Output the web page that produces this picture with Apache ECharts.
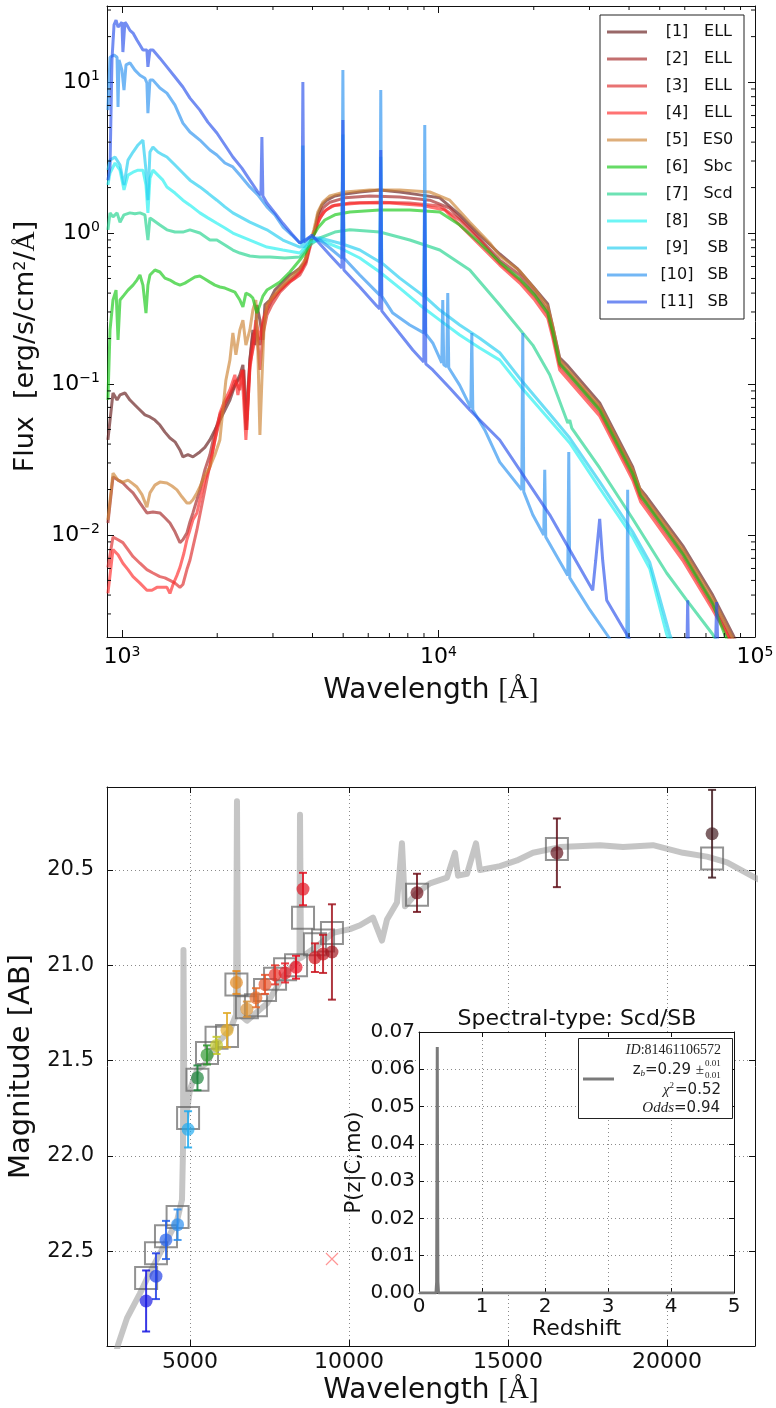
<!DOCTYPE html>
<html><head><meta charset="utf-8">
<script src="https://cdn.jsdelivr.net/npm/echarts/dist/echarts.min.js"></script>
<style>html,body{margin:0;padding:0;background:#fff}#c{width:776px;height:1408px}</style>
</head><body><div id="c"></div>
<script>
// ---------- TOP PANEL: SED templates [wavelength (A), flux] ----------
const templateNames = ['[1] ELL','[2] ELL','[3] ELL','[4] ELL','[5] ES0','[6] Sbc','[7] Scd','[8] SB','[9] SB','[10] SB','[11] SB'];
const t1 = [[903,0.0426],[937,0.0872],[965,0.0783],[986,0.0846],[1022,0.0872],[1060,0.0783],[1099,0.0726],[1140,0.0673],[1182,0.0624],[1226,0.0605],[1271,0.0577],[1318,0.0535],[1367,0.048],[1418,0.0439],[1471,0.0414],[1525,0.0366],[1558,0.0329],[1616,0.034],[1676,0.0329],[1763,0.0355],[1828,0.038],[1896,0.0426],[1967,0.0496],[2039,0.0577],[2115,0.0673],[2193,0.0783],[2274,0.098],[2358,0.115],[2411,0.134],[2464,0.0496],[2536,0.144],[2592,0.228],[2630,0.181],[2669,0.334],[2728,0.265],[2788,0.196],[2829,0.334],[2934,0.36],[3042,0.419],[3155,0.452],[3271,0.488],[3393,0.527],[3518,0.552],[3648,0.586],[3783,0.642],[3867,0.772],[3981,0.927],[4069,1.015],[4158,1.32],[4281,1.53],[4439,1.65],[4706,1.76],[5062,1.81],[5643,1.87],[6525,1.93],[7548,1.87],[8729,1.79],[10095,1.71],[11675,1.32],[13504,0.97],[15617,0.726],[17682,0.586],[19856,0.445],[22142,0.339],[22795,0.257],[24155,0.149],[25428,0.134],[32309,0.0748],[41068,0.0282],[43214,0.0204],[45471,0.0179],[59089,0.0085],[73492,0.004],[84990,0.0022],[103400,0.00094]];
const t2 = [[903,0.012],[937,0.0242],[972,0.0231],[1007,0.0221],[1045,0.0204],[1084,0.019],[1140,0.0163],[1199,0.014],[1253,0.0142],[1318,0.014],[1367,0.013],[1418,0.012],[1471,0.0105],[1525,0.0089],[1558,0.0093],[1604,0.0103],[1640,0.0122],[1676,0.014],[1725,0.0171],[1763,0.0199],[1828,0.027],[1896,0.034],[1967,0.048],[2039,0.0624],[2115,0.0726],[2193,0.0846],[2274,0.098],[2358,0.11],[2428,0.124],[2481,0.0577],[2536,0.144],[2592,0.211],[2649,0.228],[2728,0.181],[2788,0.246],[2871,0.309],[2977,0.36],[3155,0.419],[3393,0.488],[3648,0.552],[3811,0.642],[3924,0.833],[4039,1.015],[4158,1.26],[4312,1.46],[4538,1.6],[5062,1.71],[6068,1.76],[7548,1.73],[9387,1.65],[10856,1.46],[12559,1.08],[15617,0.662],[18064,0.527],[20147,0.406],[22142,0.309],[22962,0.228],[24155,0.14],[32309,0.0694],[41068,0.0262],[43518,0.0187],[45471,0.0166],[59089,0.0078],[73492,0.0036],[83150,0.0022],[103400,0.00086]];
const t3 = [[903,0.0061],[937,0.0097],[972,0.0093],[1007,0.0089],[1045,0.008],[1084,0.0072],[1140,0.0065],[1199,0.0059],[1253,0.0056],[1318,0.0053],[1367,0.0052],[1418,0.005],[1471,0.0048],[1525,0.0045],[1558,0.0047],[1604,0.0059],[1640,0.0068],[1676,0.0083],[1725,0.0108],[1763,0.0136],[1828,0.0199],[1896,0.0291],[1967,0.0426],[2039,0.0577],[2115,0.0748],[2193,0.0846],[2274,0.106],[2358,0.0913],[2411,0.124],[2481,0.0496],[2536,0.134],[2592,0.168],[2669,0.228],[2728,0.124],[2788,0.211],[2871,0.286],[2977,0.334],[3155,0.406],[3393,0.473],[3648,0.527],[3811,0.623],[3924,0.796],[4039,0.985],[4158,1.18],[4344,1.38],[4605,1.51],[5248,1.58],[6525,1.6],[8117,1.58],[10095,1.51],[11675,1.22],[13504,0.899],[15617,0.633],[18064,0.488],[20147,0.382],[22142,0.291],[22962,0.215],[24155,0.132],[32309,0.0653],[41068,0.0246],[43518,0.0176],[45471,0.0156],[59089,0.0073],[73492,0.0034],[81950,0.0022],[103400,0.00081]];
const t4 = [[903,0.0041],[937,0.008],[972,0.0074],[1007,0.0065],[1045,0.0059],[1084,0.0053],[1140,0.0048],[1199,0.0043],[1244,0.0043],[1290,0.0045],[1337,0.0045],[1387,0.0045],[1418,0.0041],[1450,0.0047],[1492,0.0054],[1525,0.0061],[1570,0.0076],[1604,0.0093],[1640,0.0108],[1676,0.0126],[1725,0.014],[1763,0.0171],[1828,0.0231],[1896,0.0282],[1967,0.0426],[2039,0.0643],[2115,0.0783],[2193,0.0913],[2274,0.115],[2325,0.0846],[2393,0.124],[2464,0.0426],[2536,0.124],[2592,0.181],[2649,0.265],[2728,0.196],[2788,0.265],[2892,0.334],[3042,0.388],[3271,0.452],[3518,0.503],[3702,0.569],[3839,0.715],[3952,0.899],[4069,1.015],[4219,1.26],[4407,1.42],[4706,1.53],[5643,1.58],[7019,1.58],[8729,1.53],[10468,1.42],[12106,1.05],[14003,0.772],[15617,0.614],[18064,0.466],[20147,0.36],[22142,0.273],[22962,0.202],[24155,0.124],[32309,0.0614],[41068,0.0231],[43518,0.0166],[45471,0.0146],[59089,0.0068],[73492,0.0032],[81355,0.0022],[103400,0.00076]];
const t5 = [[903,0.0126],[937,0.0257],[972,0.0231],[1007,0.0224],[1045,0.0231],[1084,0.0218],[1115,0.0208],[1157,0.0185],[1199,0.0153],[1226,0.019],[1271,0.0214],[1318,0.0224],[1387,0.0221],[1439,0.0211],[1492,0.0199],[1547,0.0179],[1604,0.0163],[1640,0.0163],[1676,0.0171],[1725,0.019],[1763,0.0208],[1828,0.025],[1896,0.0282],[1967,0.034],[2039,0.0426],[2084,0.0673],[2130,0.106],[2193,0.144],[2241,0.218],[2291,0.156],[2358,0.228],[2411,0.265],[2464,0.181],[2536,0.228],[2592,0.309],[2649,0.36],[2688,0.168],[2728,0.046],[2768,0.106],[2809,0.228],[2871,0.334],[2977,0.371],[3155,0.432],[3393,0.503],[3648,0.586],[3811,0.683],[3924,0.859],[4039,1.05],[4158,1.38],[4312,1.6],[4538,1.76],[5062,1.87],[6068,1.93],[7548,1.93],[9387,1.87],[10856,1.65],[12559,1.18],[14522,0.859],[15617,0.704],[18064,0.56],[20147,0.425],[22142,0.324],[22962,0.242],[24155,0.144],[32309,0.0715],[41068,0.027],[43518,0.0196],[45471,0.0171],[59089,0.0081],[73492,0.0038],[83760,0.0022],[103400,0.00091]];
const t6 = [[903,0.0783],[917,0.228],[937,0.36],[958,0.419],[972,0.196],[986,0.36],[1015,0.388],[1045,0.419],[1084,0.452],[1115,0.488],[1140,0.527],[1165,0.452],[1191,0.295],[1208,0.452],[1226,0.527],[1271,0.569],[1318,0.552],[1367,0.503],[1418,0.488],[1471,0.466],[1525,0.452],[1581,0.466],[1640,0.488],[1700,0.511],[1763,0.519],[1828,0.496],[1896,0.473],[1967,0.452],[2039,0.439],[2115,0.432],[2193,0.419],[2274,0.406],[2358,0.36],[2411,0.324],[2464,0.4],[2536,0.388],[2592,0.371],[2669,0.295],[2728,0.334],[2788,0.382],[2871,0.419],[2977,0.439],[3155,0.473],[3393,0.552],[3648,0.662],[3811,0.749],[3924,0.859],[4039,0.97],[4158,1.08],[4375,1.22],[4706,1.32],[5248,1.38],[6525,1.42],[8117,1.42],[10095,1.38],[11675,1.13],[13504,0.859],[15617,0.642],[18064,0.496],[20147,0.388],[22142,0.295],[22962,0.221],[24155,0.136],[32309,0.0673],[41068,0.0254],[43518,0.0182],[45471,0.0161],[59089,0.0075],[73492,0.0035],[80180,0.0022],[103400,0.0007]];
const t7 = [[903,1.05],[917,1.36],[937,1.28],[965,1.36],[986,1.18],[1015,1.32],[1060,1.36],[1099,1.34],[1140,1.36],[1182,1.32],[1208,0.899],[1226,1.26],[1253,1.22],[1318,1.13],[1387,1.05],[1471,1.015],[1558,1.015],[1640,1.05],[1763,1.0],[1896,0.899],[1995,0.899],[2115,0.833],[2241,0.772],[2358,0.737],[2536,0.704],[2728,0.693],[2934,0.693],[3271,0.683],[3648,0.693],[3924,0.833],[4219,0.927],[4706,1.015],[5248,1.05],[6525,1.015],[8117,0.899],[10095,0.772],[12559,0.569],[15617,0.334],[19856,0.181],[22466,0.115],[25614,0.0552],[25990,0.0577],[26370,0.0511],[32309,0.0278],[41068,0.0128],[52595,0.0056],[60838,0.0037],[73492,0.0022],[103400,0.0006]];
const t8 = [[903,2.08],[917,2.5],[951,2.91],[986,2.61],[1015,1.93],[1045,2.42],[1084,2.53],[1124,2.61],[1165,2.61],[1191,2.08],[1208,1.36],[1226,2.31],[1253,2.61],[1299,2.42],[1347,2.24],[1387,2.02],[1471,1.84],[1558,1.65],[1640,1.53],[1763,1.36],[1868,1.26],[1995,1.16],[2115,1.08],[2241,1.0],[2536,0.899],[2871,0.808],[3224,0.772],[3648,0.737],[3924,0.872],[4219,0.899],[4881,0.796],[5643,0.683],[6525,0.552],[7548,0.432],[8729,0.334],[10095,0.265],[11675,0.211],[13504,0.173],[15617,0.144],[18464,0.0926],[22466,0.0577],[25990,0.0407],[32309,0.0204],[41068,0.0097],[46477,0.006],[52595,0.0022],[66864,0.0006]];
const t9 = [[903,2.61],[917,3.04],[951,3.19],[986,2.82],[1015,2.08],[1045,3.04],[1084,3.44],[1124,3.83],[1165,4.13],[1191,2.61],[1208,1.65],[1226,3.44],[1253,3.71],[1299,3.44],[1347,3.29],[1387,3.19],[1471,2.82],[1558,2.5],[1640,2.24],[1763,2.02],[1868,1.84],[1995,1.65],[2115,1.49],[2241,1.36],[2536,1.18],[2871,1.05],[3224,0.899],[3648,0.808],[3702,0.808],[3729,3.8],[3756,0.8],[3924,0.927],[4219,0.927],[4953,0.85],[4989,4.5],[5025,0.84],[5643,0.772],[6525,0.642],[6572,3.2],[6620,0.635],[7548,0.503],[8729,0.4],[8986,0.38],[9051,1.8],[9117,0.375],[10095,0.309],[11675,0.246],[13504,0.201],[15617,0.161],[18464,0.103],[22466,0.0633],[25990,0.0439],[32309,0.0225],[41068,0.0105],[46477,0.0066],[53762,0.0022],[66864,0.00064]];
const t10 = [[903,6.52],[917,14.6],[944,15.1],[965,14.6],[972,6.83],[979,14.0],[1000,12.0],[1015,8.85],[1030,13.0],[1060,13.4],[1099,12.0],[1140,11.1],[1182,10.6],[1199,9.85],[1208,6.23],[1226,10.3],[1253,10.3],[1318,9.13],[1387,8.45],[1471,7.04],[1558,5.35],[1640,4.67],[1763,4.13],[1896,3.55],[1995,3.29],[2115,2.91],[2241,2.74],[2358,2.42],[2536,2.02],[2688,1.79],[2871,1.49],[3042,1.32],[3224,1.1],[3442,0.97],[3648,0.859],[3924,0.94],[4219,0.899],[4538,0.796],[4953,0.683],[4989,12.0],[5025,0.683],[5643,0.527],[6383,0.406],[6525,0.388],[6572,8.85],[6620,0.382],[7173,0.295],[8117,0.246],[8986,0.218],[9051,5.19],[9117,0.215],[9593,0.187],[10242,0.138],[10317,0.36],[10392,0.134],[10621,0.13],[10699,0.4],[10777,0.128],[11675,0.098],[12651,0.0694],[12744,0.218],[12837,0.0673],[14003,0.0496],[15617,0.0304],[18329,0.0199],[18464,0.218],[18598,0.0193],[19856,0.0136],[21508,0.01],[21664,0.027],[21822,0.0097],[25614,0.0054],[25801,0.0355],[25990,0.0052],[30045,0.0032],[34002,0.0022],[39313,0.0014],[39600,0.0199],[39889,0.00137],[49985,0.0006],[66864,0.00018]];
const t11 = [[903,2.24],[917,2.74],[930,14.0],[944,23.9],[958,25.7],[972,23.1],[986,23.1],[1000,24.9],[1007,15.8],[1022,24.9],[1037,23.9],[1060,22.0],[1084,21.1],[1115,19.0],[1140,17.6],[1165,16.3],[1199,16.3],[1208,12.6],[1226,16.3],[1253,16.3],[1318,14.4],[1387,12.6],[1471,10.8],[1558,9.27],[1640,7.83],[1763,6.52],[1868,5.43],[1995,4.6],[2115,3.83],[2241,3.19],[2393,2.69],[2536,2.24],[2688,1.87],[2748,1.79],[2768,4.32],[2788,1.76],[2871,1.58],[3042,1.36],[3224,1.16],[3442,0.985],[3648,0.859],[3702,0.872],[3729,10.0],[3756,0.872],[3981,0.97],[4538,0.715],[4953,0.586],[4989,5.6],[5025,0.569],[5643,0.439],[6383,0.329],[6525,0.314],[6572,3.55],[6620,0.305],[8296,0.168],[8986,0.14],[9051,1.65],[9117,0.136],[9593,0.124],[10856,0.094],[12559,0.0673],[15617,0.0426],[22466,0.0136],[30709,0.0043],[31386,0.0068],[32309,0.0128],[33021,0.0068],[34002,0.0037],[39313,0.0022],[49985,0.00094],[60396,0.00051],[61282,0.0037],[62180,0.00051],[73492,0.00033],[75655,0.0036],[77880,0.00033],[96160,0.00018]];
const templates = [t1,t2,t3,t4,t5,t6,t7,t8,t9,t10,t11];
const topMinorX = [2000,3000,4000,5000,6000,7000,8000,9000,20000,30000,40000,50000,60000,70000,80000,90000];
const topMinorY = [0.003,0.004,0.005,0.006,0.007,0.008,0.009,0.02,0.03,0.04,0.05,0.06,0.07,0.08,0.09,0.2,0.3,0.4,0.5,0.6,0.7,0.8,0.9,2,3,4,5,6,7,8,9,20,30];

// ---------- BOTTOM PANEL: photometry ----------
const sedWl  = [2484,2736,3019,3428,3742,4151,4591,4748,4780,4795,4827,5000,5220,5535,5850,6258,6447,6478,6510,6793,7422,7925,8444,8460,8491,8994,9497,10032,10347,10755,11038,11196,11510,11667,11762,12139,12548,13083,13334,13430,13712,13995,14120,14750,15284,15787,16637,17895,18618,19562,20505,21260,21889,22770,23500];
const sedMag = [23.18,22.99,22.85,22.72,22.61,22.48,22.34,22.23,21.97,20.92,21.86,21.65,21.55,21.51,21.41,21.34,21.26,20.14,21.25,21.29,21.20,21.06,20.96,20.21,20.96,20.90,20.83,20.81,20.79,20.75,20.87,20.76,20.67,20.36,20.69,20.62,20.57,20.54,20.41,20.53,20.52,20.36,20.50,20.48,20.45,20.41,20.38,20.37,20.38,20.37,20.41,20.43,20.46,20.54,20.60];
const filterWl = [3620,3930,4245,4610,4940,5235,5535,5835,6165,6460,6790,7075,7360,7675,7990,8335,8555,8930,9185,9465,12140,16540,21420];
const obsMag   = [22.76,22.63,22.44,22.36,21.86,21.59,21.47,21.42,21.34,21.09,21.23,21.17,21.10,21.05,21.04,21.01,20.60,20.96,20.94,20.93,20.62,20.41,20.31];
const obsErr   = [0.16,0.12,0.10,0.08,0.095,0.065,0.05,0.045,0.09,0.06,0.04,0.05,0.05,0.05,0.05,0.06,0.085,0.075,0.1,0.25,0.10,0.18,0.23];
const modelMag = [22.64,22.51,22.42,22.32,21.80,21.60,21.46,21.38,21.37,21.10,21.22,21.21,21.13,21.07,21.02,21.00,20.75,20.89,20.87,20.83,20.63,20.39,20.44];
const undetected = [[9465,22.54]];

// ---------- INSET: P(z) ----------
const zGrid = [0,0.27,0.28,0.285,0.29,0.295,0.30,0.31,5];
const pz    = [0,0,0.003,0.03,0.066,0.03,0.003,0,0];

// ---------- styles ----------
const FONT = "'DejaVu Sans', sans-serif";
const SERIF = "'Liberation Serif', 'DejaVu Serif', serif";
const tmplColors = ['rgba(110,40,40,0.7)','rgba(170,50,50,0.7)','rgba(220,40,40,0.65)','rgba(255,40,40,0.65)','rgba(205,130,50,0.65)','rgba(20,200,20,0.65)','rgba(30,210,140,0.65)','rgba(30,240,240,0.65)','rgba(30,205,240,0.65)','rgba(40,145,240,0.65)','rgba(40,80,235,0.65)'];
const ptColors = ['rgba(20,20,225,0.85)','rgba(30,60,230,0.85)','rgba(35,95,235,0.85)','rgba(40,140,240,0.85)','rgba(30,170,240,0.85)','rgba(25,130,55,0.85)','rgba(45,150,45,0.85)','rgba(195,200,40,0.85)','rgba(225,170,40,0.85)','rgba(225,135,30,0.85)','rgba(215,145,55,0.85)','rgba(230,105,40,0.85)','rgba(230,80,40,0.85)','rgba(230,50,40,0.85)','rgba(230,30,40,0.85)','rgba(232,10,30,0.85)','rgba(225,15,30,0.85)','rgba(205,20,30,0.85)','rgba(190,20,30,0.85)','rgba(160,20,30,0.85)','rgba(110,15,25,0.85)','rgba(95,15,25,0.85)','rgba(65,25,30,0.85)'];

const TX = [897, 100000], TY = [0.00211, 31.9];
const BX = [2390, 22770], BY = [20.065, 22.996];
const AX = '#111';

function powFmt(v) {
  const l = Math.log10(v), e = Math.round(l);
  if (Math.abs(l - e) > 1e-6) return '';
  return '{b|10}{s|' + (e < 0 ? '\u2212' + (-e) : e) + '}';
}
const powRich = {
  b: {fontSize: 22, fontFamily: FONT, color: '#000'},
  s: {fontSize: 14, fontFamily: FONT, color: '#000', padding: [0, 0, 11, 0]}
};
const line1 = {show: true, onZero: false, lineStyle: {color: AX, width: 1}};
const tickIn = (len) => ({show: true, inside: true, length: len, lineStyle: {color: AX, width: 1}});
const dotted = {show: true, lineStyle: {color: '#8a8a8a', width: 1, type: [1, 3]}};

const chart = echarts.init(document.getElementById('c'), null, {renderer: 'canvas'});

const series = [];
templates.forEach((t, i) => {
  series.push({
    type: 'line', name: templateNames[i], xAxisIndex: 0, yAxisIndex: 0, data: t,
    showSymbol: false, symbol: 'none', clip: true, silent: true,
    lineStyle: {width: 3, color: tmplColors[i]}, itemStyle: {color: tmplColors[i]}
  });
});
series.push({
  type: 'custom', xAxisIndex: 0, yAxisIndex: 0, silent: true, z: 5,
  data: topMinorX.map(v => [v, 1]),
  renderItem: (p, api) => {
    const v = api.value(0), b = api.coord([v, TY[0]]), t = api.coord([v, TY[1]]);
    return {type: 'group', children: [
      {type: 'line', shape: {x1: b[0], y1: b[1], x2: b[0], y2: b[1] - 4}, style: {stroke: AX, lineWidth: 1}},
      {type: 'line', shape: {x1: t[0], y1: t[1], x2: t[0], y2: t[1] + 4}, style: {stroke: AX, lineWidth: 1}}
    ]};
  }
});
series.push({
  type: 'custom', xAxisIndex: 0, yAxisIndex: 0, silent: true, z: 5,
  data: topMinorY.map(v => [1000, v]),
  renderItem: (p, api) => {
    const v = api.value(1), l = api.coord([TX[0], v]), r = api.coord([TX[1], v]);
    return {type: 'group', children: [
      {type: 'line', shape: {x1: l[0], y1: l[1], x2: l[0] + 4, y2: l[1]}, style: {stroke: AX, lineWidth: 1}},
      {type: 'line', shape: {x1: r[0], y1: r[1], x2: r[0] - 4, y2: r[1]}, style: {stroke: AX, lineWidth: 1}}
    ]};
  }
});
series.push({
  type: 'line', xAxisIndex: 2, yAxisIndex: 2, data: sedWl.map((w, i) => [w, sedMag[i]]),
  showSymbol: false, symbol: 'none', clip: true, silent: true, z: 1,
  lineStyle: {width: 6, color: 'rgba(150,150,150,0.55)', join: 'round'}
});
series.push({
  type: 'scatter', xAxisIndex: 2, yAxisIndex: 2, data: filterWl.map((w, i) => [w, modelMag[i]]),
  symbol: 'rect', symbolSize: 22, silent: true, z: 2,
  itemStyle: {color: 'rgba(0,0,0,0)', borderColor: 'rgba(95,95,95,0.85)', borderWidth: 2}
});
series.push({
  type: 'custom', xAxisIndex: 2, yAxisIndex: 2, silent: true, z: 3,
  data: filterWl.map((w, i) => [w, obsMag[i], obsErr[i]]),
  renderItem: (p, api) => {
    const x = api.value(0), y = api.value(1), e = api.value(2);
    const a = api.coord([x, y - e]), b = api.coord([x, y + e]);
    const c = ptColors[p.dataIndex], cap = 4;
    return {type: 'group', children: [
      {type: 'line', shape: {x1: a[0], y1: a[1], x2: b[0], y2: b[1]}, style: {stroke: c, lineWidth: 2}},
      {type: 'line', shape: {x1: a[0] - cap, y1: a[1], x2: a[0] + cap, y2: a[1]}, style: {stroke: c, lineWidth: 2}},
      {type: 'line', shape: {x1: b[0] - cap, y1: b[1], x2: b[0] + cap, y2: b[1]}, style: {stroke: c, lineWidth: 2}}
    ]};
  }
});
series.push({
  type: 'scatter', xAxisIndex: 2, yAxisIndex: 2, data: filterWl.map((w, i) => [w, obsMag[i]]),
  symbol: 'circle', symbolSize: 13, silent: true, z: 4,
  itemStyle: {color: (p) => ptColors[p.dataIndex], borderWidth: 0}
});
series.push({
  type: 'scatter', xAxisIndex: 2, yAxisIndex: 2, data: undetected,
  symbol: 'path://M0,0L10,10M10,0L0,10', symbolSize: 12, silent: true, z: 4,
  itemStyle: {color: 'none', borderColor: 'rgba(255,90,90,0.8)', borderWidth: 1.2}
});
series.push({
  type: 'line', xAxisIndex: 4, yAxisIndex: 4, data: zGrid.map((z, i) => [z, pz[i]]),
  showSymbol: false, symbol: 'none', silent: true, z: 8,
  lineStyle: {width: 3, color: '#7a7a7a'}
});

const option = {
  animation: false,
  backgroundColor: '#fff',
  textStyle: {fontFamily: FONT},
  grid: [
    {left: 107, top: 6, width: 648, height: 631, outerBoundsMode: 'none'},
    {left: 107, top: 787, width: 648, height: 559, outerBoundsMode: 'none'},
    {left: 419, top: 1032, width: 315, height: 261, show: true, backgroundColor: '#fff', borderWidth: 0, z: 5, outerBoundsMode: 'none'}
  ],
  legend: {
    data: templateNames, orient: 'vertical', left: 600, top: 15,
    padding: [7, 10, 7, 7], itemGap: 7, itemWidth: 40, itemHeight: 3, icon: 'rect',
    backgroundColor: '#fff', borderColor: '#222', borderWidth: 1, borderRadius: 0,
    selectedMode: false, itemStyle: {borderWidth: 0},
    formatter: (name) => {
      const m = name.match(/^(\[\d+\])\s+(.*)$/);
      return '{a|' + m[1] + '}{b|' + m[2] + '}';
    },
    textStyle: {fontFamily: FONT, fontSize: 16, color: '#111', lineHeight: 20,
      rich: {a: {width: 50, align: 'center', fontSize: 16, lineHeight: 20, fontFamily: FONT, color: '#111'},
             b: {width: 32, align: 'center', fontSize: 16, lineHeight: 20, fontFamily: FONT, color: '#111'}}}
  },
  xAxis: [
    {type: 'log', logBase: 10, gridIndex: 0, min: TX[0], max: TX[1], position: 'bottom',
     axisLine: line1, axisTick: tickIn(7), splitLine: {show: false}, minorTick: {show: false},
     axisLabel: {formatter: powFmt, rich: powRich, margin: 8, showMinLabel: true, showMaxLabel: true},
     name: '{n|Wavelength }{m|[Å]}', nameLocation: 'middle', nameGap: 39,
     nameTextStyle: {rich: {n: {fontSize: 28, fontFamily: FONT, color: '#111'}, m: {fontSize: 29, fontFamily: SERIF, color: '#111'}}}},
    {type: 'log', logBase: 10, gridIndex: 0, min: TX[0], max: TX[1], position: 'top',
     axisLine: line1, axisTick: tickIn(7), splitLine: {show: false}, axisLabel: {show: false}},
    {type: 'value', gridIndex: 1, min: BX[0], max: BX[1], position: 'bottom',
     axisLine: line1, axisTick: tickIn(6), splitLine: dotted,
     axisLabel: {formatter: (v) => (Math.abs(v % 5000) < 1e-6 ? String(v) : ''), fontSize: 22, color: '#111', margin: 5},
     name: '{n|Wavelength }{m|[Å]}', nameLocation: 'middle', nameGap: 30,
     nameTextStyle: {rich: {n: {fontSize: 28, fontFamily: FONT, color: '#111'}, m: {fontSize: 29, fontFamily: SERIF, color: '#111'}}}},
    {type: 'value', gridIndex: 1, min: BX[0], max: BX[1], position: 'top',
     axisLine: line1, axisTick: tickIn(6), splitLine: {show: false}, axisLabel: {show: false}},
    {type: 'value', gridIndex: 2, min: 0, max: 5, interval: 1, position: 'bottom', z: 6,
     axisLine: line1, axisTick: tickIn(5), splitLine: dotted,
     axisLabel: {fontSize: 20, color: '#111', margin: 4},
     name: 'Redshift', nameLocation: 'middle', nameGap: 20, nameTextStyle: {fontSize: 22, color: '#111', fontFamily: FONT}},
    {type: 'value', gridIndex: 2, min: 0, max: 5, interval: 1, position: 'top', z: 6,
     axisLine: line1, axisTick: tickIn(5), splitLine: {show: false}, axisLabel: {show: false}}
  ],
  yAxis: [
    {type: 'log', logBase: 10, gridIndex: 0, min: TY[0], max: TY[1], position: 'left',
     axisLine: line1, axisTick: tickIn(7), splitLine: {show: false}, minorTick: {show: false},
     axisLabel: {formatter: powFmt, rich: powRich, margin: 7},
     name: '{n|Flux  [erg/s/cm}{s|2}{n|/}{m|Å}{n|]}', nameLocation: 'middle', nameGap: 65,
     nameTextStyle: {padding: [0, 50, 0, 0], rich: {n: {fontSize: 27, fontFamily: FONT, color: '#111'}, s: {fontSize: 16, fontFamily: FONT, color: '#111', padding: [0, 0, 12, 0]}, m: {fontSize: 28, fontFamily: SERIF, color: '#111'}}}},
    {type: 'log', logBase: 10, gridIndex: 0, min: TY[0], max: TY[1], position: 'right',
     axisLine: line1, axisTick: tickIn(7), splitLine: {show: false}, axisLabel: {show: false}},
    {type: 'value', gridIndex: 1, min: BY[0], max: BY[1], inverse: true, position: 'left',
     axisLine: line1, axisTick: tickIn(6), splitLine: dotted,
     axisLabel: {formatter: (v) => (Math.abs(v * 2 - Math.round(v * 2)) < 1e-6 ? v.toFixed(1) : ''), fontSize: 21, color: '#111', margin: 13},
     name: 'Magnitude [AB]', nameLocation: 'middle', nameGap: 62, nameTextStyle: {fontSize: 29, color: '#111', fontFamily: FONT}},
    {type: 'value', gridIndex: 1, min: BY[0], max: BY[1], inverse: true, position: 'right',
     axisLine: line1, axisTick: tickIn(6), splitLine: {show: false}, axisLabel: {show: false}},
    {type: 'value', gridIndex: 2, min: 0, max: 0.07, interval: 0.01, position: 'left', z: 6,
     axisLine: line1, axisTick: tickIn(5), splitLine: dotted,
     axisLabel: {formatter: (v) => v.toFixed(2), fontSize: 20, color: '#111', margin: 4},
     name: 'P(z|C,mo)', nameLocation: 'middle', nameGap: 54, nameTextStyle: {fontSize: 21, color: '#111', fontFamily: FONT}},
    {type: 'value', gridIndex: 2, min: 0, max: 0.07, interval: 0.01, position: 'right', z: 6,
     axisLine: line1, axisTick: tickIn(5), splitLine: {show: false}, axisLabel: {show: false}}
  ],
  graphic: [
    {type: 'text', x: 577, y: 1019, z: 20, style: {text: 'Spectral-type: Scd/SB', font: '22px ' + FONT, fill: '#111', align: 'center', verticalAlign: 'middle'}},
    {type: 'rect', z: 20, shape: {x: 578.5, y: 1038.5, width: 154, height: 80}, style: {fill: '#fff', stroke: '#222', lineWidth: 1}},
    {type: 'line', z: 21, shape: {x1: 583, y1: 1079, x2: 614, y2: 1079}, style: {stroke: '#7a7a7a', lineWidth: 3}},
    {type: 'text', x: 721, y: 1050, z: 21, style: {text: '{i|ID}{r|:81461106572}', align: 'right', verticalAlign: 'middle',
      rich: {i: {fontSize: 14, fontFamily: SERIF, fontStyle: 'italic', fill: '#222'}, r: {fontSize: 14, fontFamily: SERIF, fill: '#222'}}}},
    {type: 'text', x: 704, y: 1070, z: 21, style: {text: '{s|z}{b|b}{s|=0.29 }{p|±}', align: 'right', verticalAlign: 'middle',
      rich: {s: {fontSize: 15, fontFamily: FONT, fill: '#222'}, b: {fontSize: 9, fontFamily: SERIF, fontStyle: 'italic', fill: '#222', padding: [7, 0, 0, 0]}, p: {fontSize: 15, fontFamily: SERIF, fill: '#222'}}}},
    {type: 'text', x: 705, y: 1064, z: 21, style: {text: '0.01', font: '9px ' + SERIF, fill: '#222', align: 'left', verticalAlign: 'middle'}},
    {type: 'text', x: 705, y: 1076, z: 21, style: {text: '0.01', font: '9px ' + SERIF, fill: '#222', align: 'left', verticalAlign: 'middle'}},
    {type: 'text', x: 721, y: 1090, z: 21, style: {text: '{c|χ}{u|2}{s|=0.52}', align: 'right', verticalAlign: 'middle',
      rich: {c: {fontSize: 15, fontFamily: SERIF, fontStyle: 'italic', fill: '#222'}, u: {fontSize: 9, fontFamily: SERIF, fill: '#222', padding: [0, 1, 8, 0]}, s: {fontSize: 15, fontFamily: FONT, fill: '#222'}}}},
    {type: 'text', x: 720, y: 1108, z: 21, style: {text: '{o|Odds}{s|=0.94}', align: 'right', verticalAlign: 'middle',
      rich: {o: {fontSize: 15, fontFamily: SERIF, fontStyle: 'italic', fill: '#222'}, s: {fontSize: 15, fontFamily: FONT, fill: '#222'}}}}
  ],
  series: series
};
chart.setOption(option);
</script></body></html>
